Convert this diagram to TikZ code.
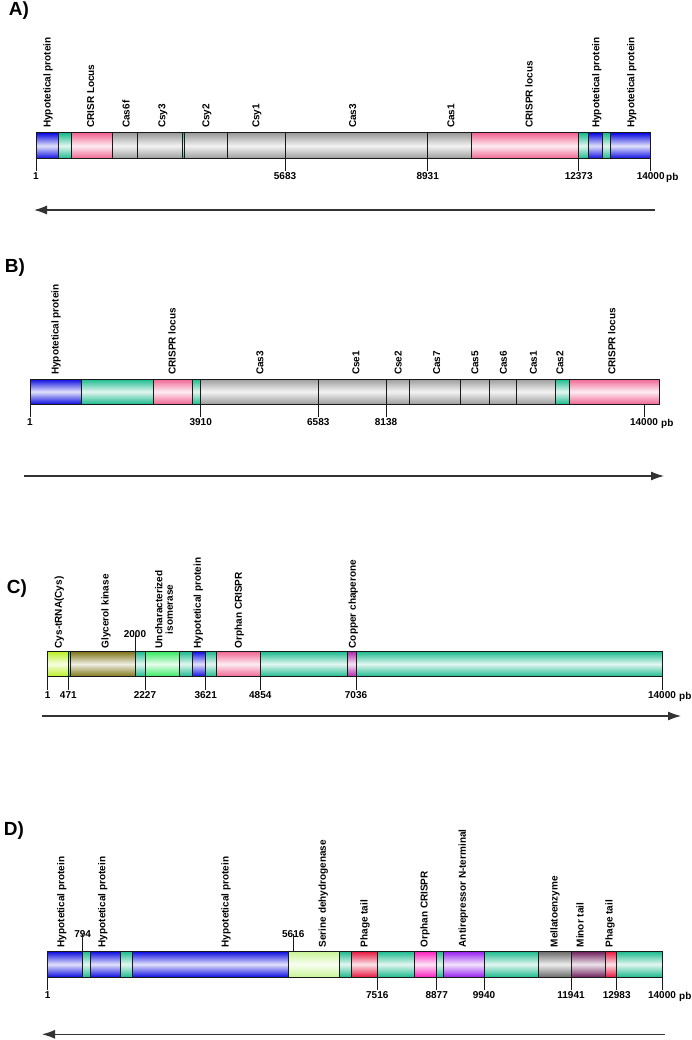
\documentclass[tikz,border=0pt]{standalone}
\usepackage{fontspec}
\setmainfont{Liberation Sans}
\usetikzlibrary{arrows.meta}
\definecolor{hblue}{RGB}{10,10,225}
\definecolor{hteal}{RGB}{25,185,140}
\definecolor{hpink}{RGB}{240,100,145}
\definecolor{hgray}{RGB}{155,155,155}
\definecolor{hlime}{RGB}{185,240,30}
\definecolor{holive}{RGB}{125,115,20}
\definecolor{hlgreen}{RGB}{50,235,95}
\definecolor{hmag}{RGB}{175,35,165}
\definecolor{hred}{RGB}{230,20,60}
\definecolor{hcream}{RGB}{200,245,150}
\definecolor{hhot}{RGB}{250,30,190}
\definecolor{hpurple}{RGB}{150,30,240}
\definecolor{hdgray}{RGB}{105,105,105}
\definecolor{hplum}{RGB}{110,30,90}
\tikzstyle{seg}=[draw=black!90,line width=1pt]
\tikzstyle{lbl}=[rotate=90,anchor=west,inner sep=0pt,align=center,font=\fontsize{10}{10.5}\selectfont\bfseries]
\tikzstyle{num}=[inner sep=0pt,font=\fontsize{10}{10.5}\selectfont\bfseries]
\tikzstyle{tick}=[draw=black!90,line width=1pt]
\tikzstyle{title}=[font=\fontsize{19}{20}\selectfont\bfseries]
\tikzstyle{strand}=[draw=black!80,line width=1.1pt,-{Latex[length=13pt,width=9pt]}]
\begin{document}
\begin{tikzpicture}[x=1pt,y=-1pt]
\useasboundingbox (0,0) rectangle (691,1040);
% A)
\node[title] (tA) at (19,11) {A)};
\foreach \a/\b/\col in {36/58.7/hblue, 58.7/71.7/hteal, 71.7/112/hpink, 112/137/hgray,
                        137/182/hgray, 182/184/hteal, 184/227.7/hgray, 227.7/285/hgray,
                        285/427.7/hgray, 427.7/471/hgray, 471/578.7/hpink, 578.7/588.3/hteal,
                        588.3/602/hblue, 602/610/hteal, 610/650.7/hblue}
  \shade[seg,top color=\col,bottom color=\col,middle color=white!88!\col] (\a,133) rectangle (\b,158.7);
\foreach \x/\txt [count=\k] in {48/Hypotetical protein, 90.7/CRISR Locus, 126/Cas6f, 163/Csy3,
                                207/Csy2, 257/Csy1, 352.7/Cas3, 451/Cas1, 529/CRISPR locus,
                                596.7/Hypotetical protein, 631.7/Hypotetical protein}
  \node[lbl] (lA-\k) at (\x,128) {\txt};
\foreach \x/\n [count=\k] in {36/1, 285/5683, 427.7/8931, 578.7/12373, 650.7/14000} {
  \node[num,anchor=north] (nA-\k) at (\x,172.5) {\n};
  \draw[tick] (nA-\k.north) ++(0,-1.5) -- (\x,158.7);
}
\node[num,anchor=west] (pbA) at (666,178) {pb};
\coordinate (sA) at (655,210);
\coordinate (eA) at (34,210);
\draw[strand] (sA) -- (eA);

% B)
\node[title] (tB) at (15,268) {B)};
\foreach \a/\b/\col in {30/81.3/hblue, 81.3/153.3/hteal, 153.3/192.7/hpink, 192.7/200.7/hteal,
                        200.7/318.3/hgray, 318.3/386/hgray, 386/409.3/hgray, 409.3/460/hgray,
                        460/489.3/hgray, 489.3/516.7/hgray, 516.7/555.7/hgray, 555.7/569.3/hteal,
                        569.3/659.3/hpink}
  \shade[seg,top color=\col,bottom color=\col,middle color=white!88!\col] (\a,379) rectangle (\b,404.3);
\foreach \x/\txt [count=\k] in {56/Hypotetical protein, 172/CRISPR locus, 260/Cas3, 356/Cse1,
                                398.3/Cse2, 436.7/Cas7, 475/Cas5, 503.3/Cas6, 533.3/Cas1,
                                560/Cas2, 611.7/CRISPR locus}
  \node[lbl] (lB-\k) at (\x,375) {\txt};
\foreach \x/\n [count=\k] in {30/1, 200.7/3910, 318.3/6583, 386/8138, 644/14000} {
  \node[num,anchor=north] (nB-\k) at (\x,418.5) {\n};
  \draw[tick] (nB-\k.north) ++(0,-1.5) -- (\x,404.3);
}
\node[num,anchor=west] (pbB) at (661,424) {pb};
\coordinate (sB) at (24,476);
\coordinate (eB) at (664,476);
\draw[strand] (sB) -- (eB);

% C)
\node[title] (tC) at (17,589) {C)};
\foreach \a/\b/\col in {47.7/68.3/hlime, 68.3/70.7/hteal, 70.7/135/holive, 135/145/hteal,
                        145/179.3/hlgreen, 179.3/192.3/hteal, 192.3/205.7/hblue, 205.7/216.7/hteal,
                        216.7/260.3/hpink, 260.3/347.3/hteal, 347.3/356/hmag, 356/662/hteal}
  \shade[seg,top color=\col,bottom color=\col,middle color=white!88!\col] (\a,651.3) rectangle (\b,676.7);
\foreach \x/\txt [count=\k] in {59.3/Cys-tRNA(Cys), 106/Glycerol kinase, 164/Uncharacterized\\isomerase,
                                198.3/Hypotetical protein, 239.3/Orphan CRISPR, 353.3/Copper chaperone}
  \node[lbl] (lC-\k) at (\x,648.5) {\txt};
\foreach \x/\n [count=\k] in {47.7/1, 68.3/471, 145/2227, 205.7/3621, 260.3/4854, 356/7036, 662/14000} {
  \node[num,anchor=north] (nC-\k) at (\x,691.5) {\n};
  \draw[tick] (nC-\k.north) ++(0,-1.5) -- (\x,676.7);
}
\node[num,anchor=south] (nC-top) at (135,638) {2000};
\draw[tick] (nC-top.south) ++(0,-3.5) -- (135,651.3);
\node[num,anchor=west] (pbC) at (679,697) {pb};
\coordinate (sC) at (41.7,716);
\coordinate (eC) at (681,716);
\draw[strand] (sC) -- (eC);

% D)
\node[title] (tD) at (14,831) {D)};
\foreach \a/\b/\col in {47.7/82.7/hblue, 82.7/90.3/hteal, 90.3/120.7/hblue, 120.7/132.7/hteal,
                        132.7/288.3/hblue, 288.3/339.3/hcream, 339.3/351.7/hteal, 351.7/377.3/hred,
                        377.3/414/hteal, 414/436.7/hhot, 436.7/443.3/hteal, 443.3/484/hpurple,
                        484/538.7/hteal, 538.7/571/hdgray, 571/605/hplum, 605/616.7/hred,
                        616.7/662/hteal}
  \shade[seg,top color=\col,bottom color=\col,middle color=white!88!\col] (\a,951.3) rectangle (\b,977.3);
\foreach \x/\txt [count=\k] in {61.7/Hypotetical protein, 102.7/Hypotetical protein, 226/Hypotetical protein,
                                323.3/Serine dehydrogenase, 365/Phage tail, 425/Orphan CRISPR,
                                463.3/Antirepressor N-terminal, 555/Mellatoenzyme, 580/Minor tail,
                                610/Phage tail}
  \node[lbl] (lD-\k) at (\x,947.5) {\txt};
\foreach \x/\n [count=\k] in {47.7/1, 377.3/7516, 436.7/8877, 484/9940, 571/11941, 616.7/12983, 662/14000} {
  \node[num,anchor=north] (nD-\k) at (\x,991.5) {\n};
  \draw[tick] (nD-\k.north) ++(0,-1.5) -- (\x,977.3);
}
\foreach \x/\n [count=\k] in {82.7/794, 293.3/5616} {
  \node[num,anchor=south] (mD-\k) at (\x,937.5) {\n};
  \draw[tick] (mD-\k.south) ++(0,-4) -- (\x,951.3);
}
\node[num,anchor=west] (pbD) at (679,997) {pb};
\coordinate (sD) at (665,1034.3);
\coordinate (eD) at (42,1034.3);
\draw[strand] (sD) -- (eD);
\end{tikzpicture}
\end{document}
